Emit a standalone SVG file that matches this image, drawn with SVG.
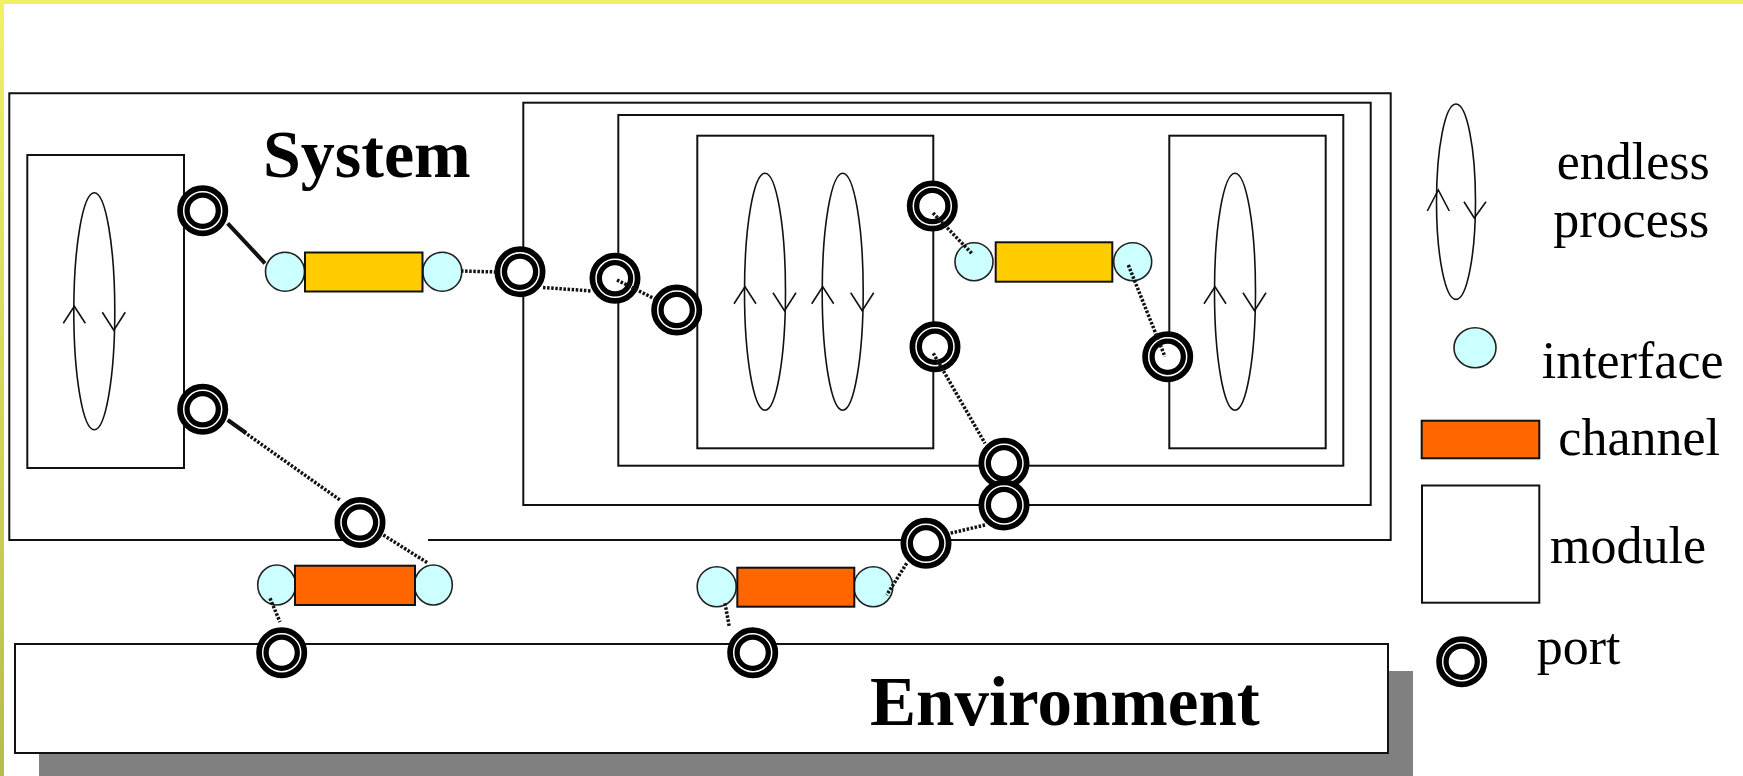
<svg xmlns="http://www.w3.org/2000/svg" xmlns:xlink="http://www.w3.org/1999/xlink" width="1743" height="776" viewBox="0 0 1743 776">
<style>
.box{fill:none;stroke:#111;stroke-width:2}
.boxw{fill:#fff;stroke:#111;stroke-width:2}
.proc{fill:none;stroke:#111;stroke-width:1.6}
.ifc{fill:#ccffff;stroke:#222;stroke-width:1.6}
.chy{fill:#ffcc00;stroke:#111;stroke-width:2}
.cho{fill:#ff6600;stroke:#111;stroke-width:2}
.dot{fill:none;stroke:#111;stroke-width:3.5;stroke-dasharray:2.5 1.6}
.solid{fill:none;stroke:#111;stroke-width:4}
.big{font-family:"Liberation Serif","Times New Roman",serif;font-weight:bold;fill:#000}
.lab{font-family:"Liberation Serif","Times New Roman",serif;font-size:52px;fill:#000}
</style>
<defs>
<linearGradient id="side" x1="0" y1="0" x2="0" y2="1">
<stop offset="0" stop-color="#f2f266"/>
<stop offset="1" stop-color="#b4bc50"/>
</linearGradient>
<g id="port">
<circle r="19.25" fill="#fff" stroke="#000" stroke-width="12.5"/>
<circle r="19" fill="none" stroke="#fff" stroke-width="1.5"/>
</g>
<g id="proc">
<ellipse rx="20.5" ry="118.5" class="proc"/>
<path class="proc" d="M-31,12 L-20,-5 L-9,12 M8,1 L19.5,19 L31,1"/>
</g>
</defs>
<rect x="0" y="0" width="1743" height="776" fill="#fff"/>
<rect x="0" y="0" width="1743" height="4" fill="#f0f064"/>
<rect x="0" y="0" width="4" height="776" fill="url(#side)"/>

<g id="environment">
<rect x="39" y="671" width="1374" height="120" fill="#808080"/>
<rect x="15" y="644" width="1373" height="109" class="boxw"/>
<text x="870" y="725" class="big" font-size="69">Environment</text>
</g>

<g id="system">
<path class="box" d="M428,540 H1390.7 V93.3 H9.3 V540 H360"/>
<text x="263" y="177" class="big" font-size="68">System</text>
</g>

<g id="module-left">
<rect x="27.3" y="155" width="156.7" height="313" class="box"/>
<use xlink:href="#proc" x="94.3" y="311.3"/>
</g>

<g id="module-outer">
<rect x="523.3" y="102.7" width="847.4" height="402.3" class="box"/>
</g>
<g id="module-middle">
<rect x="618.3" y="115" width="725" height="350.7" class="box"/>
</g>
<g id="module-a">
<rect x="697.3" y="135.7" width="236" height="312.6" class="box"/>
<use xlink:href="#proc" x="765" y="291.7"/>
<use xlink:href="#proc" x="842.7" y="291.7"/>
</g>
<g id="module-b">
<rect x="1169.3" y="135.7" width="156.4" height="312.6" class="box"/>
<use xlink:href="#proc" x="1235" y="291.7"/>
</g>

<g id="channel-1">
<circle cx="285" cy="271.7" r="19.5" class="ifc"/>
<circle cx="442.3" cy="271.7" r="19.5" class="ifc"/>
<rect x="305" y="252.5" width="117.5" height="39" class="chy"/>
</g>
<g id="channel-2">
<circle cx="974" cy="261.7" r="19" class="ifc"/>
<circle cx="1132.7" cy="261.7" r="19" class="ifc"/>
<rect x="995.7" y="242.3" width="116.6" height="39.4" class="chy"/>
</g>
<g id="channel-3">
<ellipse cx="276.7" cy="585" rx="19" ry="20" class="ifc"/>
<ellipse cx="433.3" cy="585" rx="19" ry="20" class="ifc"/>
<rect x="295" y="565.7" width="120" height="39.3" class="cho"/>
</g>
<g id="channel-4">
<ellipse cx="716.7" cy="586.7" rx="19.5" ry="20" class="ifc"/>
<ellipse cx="873.3" cy="586.7" rx="19.5" ry="20" class="ifc"/>
<rect x="737.3" y="567.7" width="117" height="39" class="cho"/>
</g>

<g id="ports">
<g id="port-left-1"><use xlink:href="#port" x="202.7" y="210.7"/></g>
<g id="port-left-2"><use xlink:href="#port" x="202.7" y="409.3"/></g>
<g id="port-sys-bottom-1"><use xlink:href="#port" x="360" y="522.5"/></g>
<g id="port-outer-left"><use xlink:href="#port" x="520" y="271.7"/></g>
<g id="port-middle-left"><use xlink:href="#port" x="615" y="278.3"/></g>
<g id="port-a-left"><use xlink:href="#port" x="676.7" y="310"/></g>
<g id="port-a-right-1"><use xlink:href="#port" x="932.3" y="206"/></g>
<g id="port-a-right-2"><use xlink:href="#port" x="935" y="346.7"/></g>
<g id="port-b-left"><use xlink:href="#port" x="1167.7" y="356.7"/></g>
<g id="port-middle-bottom"><use xlink:href="#port" x="1004" y="463.3"/></g>
<g id="port-outer-bottom"><use xlink:href="#port" x="1004" y="505"/></g>
<g id="port-sys-bottom-2"><use xlink:href="#port" x="926" y="543.3"/></g>
<g id="port-env-1"><use xlink:href="#port" x="281.7" y="652.7"/></g>
<g id="port-env-2"><use xlink:href="#port" x="752.7" y="652.7"/></g>
</g>

<g id="connectors">
<line class="solid" x1="227.7" y1="223.3" x2="265" y2="263.3"/>
<line class="dot" x1="461" y1="271" x2="497" y2="272"/>
<line class="dot" x1="543" y1="287.5" x2="592" y2="291"/>
<line class="dot" x1="617" y1="280" x2="657" y2="300"/>
<path class="solid" d="M227.7,420 L246,433"/>
<line class="dot" x1="244" y1="432" x2="340" y2="500"/>
<line class="dot" x1="383.3" y1="535" x2="428.3" y2="563.3"/>
<line class="dot" x1="270" y1="598.3" x2="280" y2="622"/>
<line class="dot" x1="933" y1="213" x2="971.7" y2="253.3"/>
<line class="dot" x1="1128.3" y1="265" x2="1165" y2="356.7"/>
<line class="dot" x1="933.3" y1="353.3" x2="985" y2="443.3"/>
<line class="dot" x1="985" y1="525" x2="950" y2="533.3"/>
<line class="dot" x1="906.7" y1="563.3" x2="886.7" y2="595"/>
<line class="dot" x1="725" y1="603.3" x2="729.3" y2="626.7"/>
</g>

<g id="legend">
<g id="legend-process">
<ellipse cx="1456" cy="201.7" rx="19.5" ry="97.7" class="proc"/>
<path class="proc" d="M1427.3,211 L1438.3,190 L1449.3,211 M1464,201.7 L1474.3,218 L1486,201.7"/>
<text x="1556.7" y="179" class="lab">endless</text>
<text x="1553.3" y="236.7" class="lab">process</text>
</g>
<g id="legend-interface">
<ellipse cx="1475" cy="347.7" rx="21" ry="20" class="ifc"/>
<text x="1541.7" y="377.7" class="lab">interface</text>
</g>
<g id="legend-channel">
<rect x="1421.7" y="420.7" width="117.6" height="37.6" class="cho"/>
<text x="1558.3" y="455" class="lab">channel</text>
</g>
<g id="legend-module">
<rect x="1422" y="485.5" width="117.3" height="117.2" class="box"/>
<text x="1550" y="563.3" class="lab">module</text>
</g>
<g id="legend-port">
<use xlink:href="#port" x="1461.7" y="661.7"/>
<text x="1536.7" y="664" class="lab">port</text>
</g>
</g>
</svg>
